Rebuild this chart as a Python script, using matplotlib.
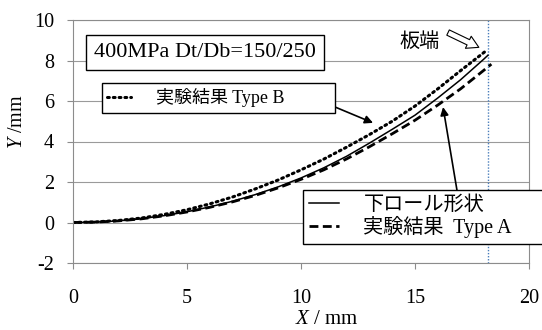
import matplotlib
matplotlib.use("Agg")
import matplotlib.pyplot as plt

plt.rcParams['font.family'] = ['Liberation Serif', 'Noto Sans CJK JP']
plt.rcParams['mathtext.fontset'] = 'custom'
plt.rcParams['mathtext.it'] = 'Liberation Serif:italic'
plt.rcParams['mathtext.rm'] = 'Liberation Serif'
plt.rcParams['axes.unicode_minus'] = False

# 下ロール形状
x_roll = [0, 1, 2, 3, 4, 5, 6, 7, 8, 9, 10, 11, 12, 13, 14, 15, 16, 17, 18, 18.2]
y_roll = [0, 0.02, 0.08, 0.19, 0.34, 0.53, 0.77, 1.05, 1.38, 1.76, 2.2, 2.7,
          3.27, 3.92, 4.6, 5.3, 6.15, 7.05, 8.05, 8.26]

# 実験結果 Type A
x_a = [0, 1, 2, 3, 4, 5, 6, 7, 8, 9, 10, 11, 12, 13, 14, 15, 16, 17, 18, 18.35]
y_a = [0, 0.02, 0.08, 0.18, 0.33, 0.52, 0.75, 1.02, 1.34, 1.71, 2.13, 2.6,
       3.14, 3.74, 4.38, 5.05, 5.8, 6.6, 7.5, 7.82]

# 実験結果 Type B
x_b = [0, 1, 2, 3, 4, 5, 6, 7, 8, 9, 10, 11, 12, 13, 14, 15, 16, 17, 18.05]
y_b = [0, 0.03, 0.1, 0.22, 0.4, 0.63, 0.92, 1.26, 1.66, 2.1, 2.6, 3.13,
       3.72, 4.34, 5.0, 5.75, 6.6, 7.5, 8.42]

x_edge = 18.2
x_ticks = [0, 5, 10, 15, 20]
y_ticks = [-2, 0, 2, 4, 6, 8, 10]

fig = plt.figure(figsize=(5.42, 3.30), dpi=100)
ax = fig.add_axes([73/542, 1 - 263/330, (529 - 73)/542, (263 - 20)/330])

ax.set_xlim(0, 20)
ax.set_ylim(-2, 10)
ax.set_xticks(x_ticks)
ax.set_yticks(y_ticks)
ax.yaxis.grid(True, color='#9a9a9a', linewidth=0.8)
ax.set_axisbelow(True)
for s in ax.spines.values():
    s.set_color('#8c8c8c')
    s.set_linewidth(0.8)
ax.tick_params(axis='y', direction='out', length=4.5, width=0.8, color='#8c8c8c',
               labelsize=14.5, pad=9)
ax.tick_params(axis='x', direction='out', length=4, width=0.8, color='#8c8c8c',
               labelsize=14.5, pad=15)

ax.axvline(x_edge, color='#4a7ebb', linestyle=(0, (1, 1.2)), linewidth=1.0)

l_roll, = ax.plot(x_roll, y_roll, color='black', linewidth=1.1)
l_a, = ax.plot(x_a, y_a, color='black', linewidth=2.0, linestyle=(0, (3.2, 1.6)))
l_b, = ax.plot(x_b, y_b, color='black', linewidth=2.2, linestyle=(0, (0.6, 1.3)),
               dash_capstyle='round')

fig.text(18/542, 1 - 122/330, r'$Y$ /mm', rotation=90, ha='center', va='center',
         fontsize=14.5)
fig.text(327/542, 1 - 319/330, r'$X$ / mm', ha='center', va='center', fontsize=15)

ax.text(5.79, 8.4, '400MPa Dt/Db=150/250', ha='center', va='center', fontsize=16,
        bbox=dict(boxstyle='square,pad=0.35', fc='white', ec='black', lw=1.0))

leg_b = ax.legend([l_b], ['実験結果 Type B          '], loc='upper left',
                  bbox_to_anchor=(101.7/542, 1 - 83/330), bbox_transform=fig.transFigure,
                  fontsize=13, frameon=True, fancybox=False, edgecolor='black',
                  framealpha=1, borderaxespad=0, handlelength=1.3, handletextpad=1.4,
                  borderpad=0.3)
leg_b.get_frame().set_linewidth(1.0)
ax.add_artist(leg_b)

leg_a = ax.legend([l_roll, l_a], ['下ロール形状', '実験結果  Type A      '], loc='upper left',
                  bbox_to_anchor=(303/542, 1 - 190/330), bbox_transform=fig.transFigure,
                  fontsize=14.5, frameon=True, fancybox=False, edgecolor='black',
                  framealpha=1, borderaxespad=0, handlelength=1.5, handletextpad=1.2,
                  borderpad=0.3, labelspacing=0.05)
leg_a.get_frame().set_linewidth(1.0)

ax.annotate('', xy=(13.16, 4.92), xytext=(11.5, 5.7),
            arrowprops=dict(arrowstyle='-|>', color='black', lw=1.2,
                            mutation_scale=12, shrinkA=0, shrinkB=0))
ax.annotate('', xy=(16.23, 5.7), xytext=(16.84, 1.6),
            arrowprops=dict(arrowstyle='-|>', color='black', lw=1.2,
                            mutation_scale=12, shrinkA=0, shrinkB=0))

ax.text(15.2, 8.92, '板端', ha='center', va='center', fontsize=14.5,
        family=['Noto Sans CJK JP'])
ax.annotate('', xy=(17.8, 8.65), xytext=(16.45, 9.38),
            arrowprops=dict(arrowstyle='simple,head_length=0.7,head_width=0.8,tail_width=0.35',
                            fc='white', ec='black', lw=0.8, mutation_scale=12,
                            shrinkA=0, shrinkB=0))

fig.savefig('out.png', dpi=100)
